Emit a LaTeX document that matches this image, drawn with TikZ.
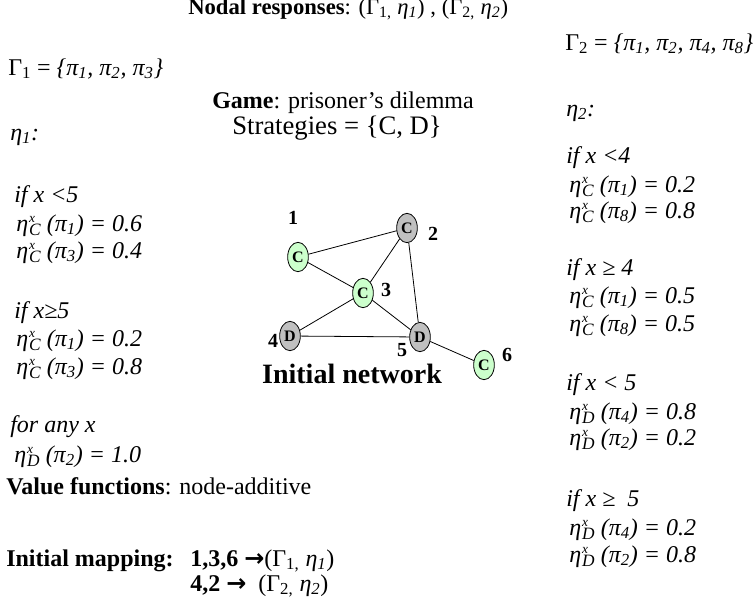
\documentclass[tikz,border=0pt]{standalone}
\usepackage{fontspec}
\setmainfont{Liberation Serif}
\newfontfamily\arrowfont{DejaVu Sans}
\usetikzlibrary{shapes.geometric,positioning}
\definecolor{coopgreen}{HTML}{CCFFCC}
\definecolor{defgray}{HTML}{C0C0C0}
% eta^x_S (pi_k) = v, the x stacked over the strategy
\newcommand\resp[3]{\textit{η\kern0.8pt\rlap{\raisebox{0.8ex}{\fontsize{10}{10}\selectfont x}}%
  \raisebox{-0.45ex}{\fontsize{13}{13}\selectfont #1} (π\textsubscript{#2}) = #3}}
\newcommand\maparrow{{\arrowfont\bfseries →}}
\tikzset{
  txt/.style   ={anchor=base west, inner sep=0pt, font=\fontsize{18}{21}\selectfont},
  agent/.style ={ellipse, draw=black, line width=0.6pt, inner sep=0pt,
                 minimum width=15.5pt, minimum height=22pt,
                 font=\fontsize{12}{12}\selectfont\bfseries},
  coop/.style  ={agent, fill=coopgreen},
  defect/.style={agent, fill=defgray},
  num/.style   ={inner sep=0pt, font=\fontsize{15}{15}\selectfont\bfseries},
  link/.style  ={line width=0.6pt}
}
\begin{document}
\begin{tikzpicture}[x=0.75pt, y=-0.75pt]
\useasboundingbox (0,0) rectangle (756,604);
% header
\node[txt, font=\fontsize{17}{20}\selectfont] (nodal) at (188,14)
  {\textbf{Nodal responses}: (Γ\textsubscript{1,} \textit{η\textsubscript{1}}) , (Γ\textsubscript{2,} \textit{η\textsubscript{2}})};
\node[txt] (game) at (212,108) {\textbf{Game}: prisoner’s dilemma};
\node[txt, font=\fontsize{20}{22}\selectfont] (strat) at (232,134) {Strategies = \{C, D\}};
% left column: Gamma_1 and eta_1
\node[txt] (gam1) at (8,75)
  {Γ\textsubscript{1} = \textit{\{π\textsubscript{1}, π\textsubscript{2}, π\textsubscript{3}\}}};
\node[txt] (eta1) at (10,140) {\textit{η\textsubscript{1}:}};
\node[txt] (la) at (14,202) {\textit{if x <5}};
\node[txt] (la1) at (16,231) {\resp{C}{1}{0.6}};
\node[txt] (la2) at (16,258) {\resp{C}{3}{0.4}};
\node[txt] (lb) at (14,318) {\textit{if x≥5}};
\node[txt] (lb1) at (16,346) {\resp{C}{1}{0.2}};
\node[txt] (lb2) at (16,374) {\resp{C}{3}{0.8}};
\node[txt] (lc) at (10,432) {\textit{for any x}};
\node[txt] (lc1) at (14,462) {\resp{D}{2}{1.0}};
\node[txt] (val) at (6,494) {\textbf{Value functions}: node-additive};
\node[txt] (map) at (6,566) {\textbf{Initial mapping:}};
\node[txt] (map1) at (190,566) {\textbf{1,3,6} \maparrow(Γ\textsubscript{1,} \textit{η\textsubscript{1}})};
\node[txt] (map2) at (190,591) {\textbf{4,2} \maparrow\ \ (Γ\textsubscript{2,} \textit{η\textsubscript{2}})};
% right column: Gamma_2 and eta_2
\node[txt] (gam2) at (565,50)
  {Γ\textsubscript{2} = \textit{\{π\textsubscript{1}, π\textsubscript{2}, π\textsubscript{4}, π\textsubscript{8}\}}};
\node[txt] (eta2) at (566,116) {\textit{η\textsubscript{2}:}};
\node[txt] (ra) at (566,163) {\textit{if x <4}};
\node[txt] (ra1) at (569,192) {\resp{C}{1}{0.2}};
\node[txt] (ra2) at (569,218) {\resp{C}{8}{0.8}};
\node[txt] (rb) at (566,275) {\textit{if x ≥ 4}};
\node[txt] (rb1) at (569,303) {\resp{C}{1}{0.5}};
\node[txt] (rb2) at (569,331) {\resp{C}{8}{0.5}};
\node[txt] (rc) at (566,390) {\textit{if x < 5}};
\node[txt] (rc1) at (569,419) {\resp{D}{4}{0.8}};
\node[txt] (rc2) at (569,445) {\resp{D}{2}{0.2}};
\node[txt] (rd) at (566,506) {\textit{if x ≥\ \ 5}};
\node[txt] (rd1) at (569,535) {\resp{D}{4}{0.2}};
\node[txt] (rd2) at (569,562) {\resp{D}{2}{0.8}};
% initial network
\node[coop]   (n1) at (298,257) {C};
\node[defect] (n2) at (407,228) {C};
\node[coop]   (n3) at (363,293) {C};
\node[defect] (n4) at (290,336) {D};
\node[defect] (n5) at (420,337) {D};
\node[coop]   (n6) at (484,365) {C};
\foreach \a/\b in {n1/n2,n1/n3,n2/n3,n2/n5,n3/n4,n3/n5,n4/n5,n5/n6}
  \draw[link] (\a) -- (\b);
\node[num] (k1) at (293,218) {1};
\node[num] (k2) at (433,234) {2};
\node[num] (k3) at (386,290) {3};
\node[num] (k4) at (273,341) {4};
\node[num] (k5) at (402,350) {5};
\node[num] (k6) at (507,355) {6};
\node[inner sep=0pt, font=\fontsize{21}{24}\selectfont\bfseries] (net) at (352,374)
  {Initial network};
\end{tikzpicture}
\end{document}
